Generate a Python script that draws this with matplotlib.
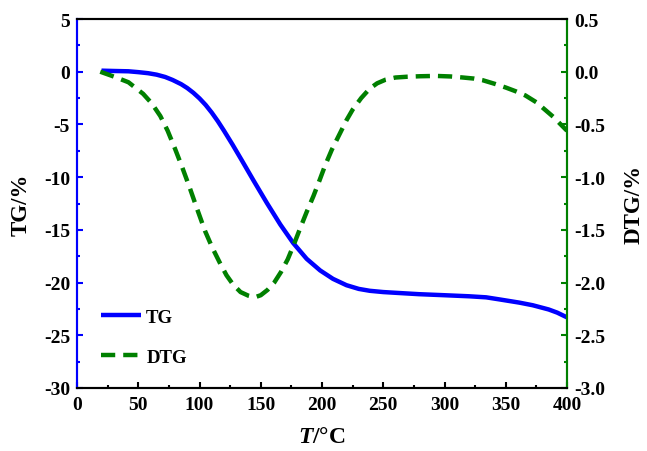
import matplotlib
matplotlib.use("Agg")
import matplotlib.pyplot as plt
from matplotlib.ticker import MultipleLocator, FormatStrFormatter

plt.rcParams['font.family'] = ['Liberation Serif', 'DejaVu Serif']
plt.rcParams['font.weight'] = 'bold'
plt.rcParams['axes.unicode_minus'] = False
plt.rcParams['mathtext.fontset'] = 'custom'
plt.rcParams['mathtext.it'] = 'Liberation Serif:bold:italic'
plt.rcParams['mathtext.rm'] = 'Liberation Serif:bold'

# TG data
T_tg = [20, 30, 42, 50, 58, 65, 72, 78, 85, 90, 95, 100, 105, 110, 115, 120, 127,
        134.5, 144, 155, 166, 176.5, 187.5, 198.5, 209, 220, 230, 239, 250, 260,
        279, 300, 320, 334, 345, 361, 372, 385, 392, 400]
TG = [0.1, 0.07, 0.04, -0.04, -0.14, -0.28, -0.5, -0.78, -1.18, -1.55, -2.0,
      -2.53, -3.15, -3.88, -4.7, -5.6, -6.92, -8.4, -10.3, -12.45, -14.5, -16.25,
      -17.75, -18.85, -19.65, -20.25, -20.6, -20.78, -20.9, -20.97, -21.1, -21.2,
      -21.3, -21.4, -21.6, -21.9, -22.15, -22.55, -22.85, -23.3]

# DTG data
T_dtg = [19, 31, 42, 54, 61, 68, 74, 80, 86, 92, 98, 104.5, 110.5, 116.5, 122,
         127.5, 133.5, 140, 145, 150, 155.5, 161, 166.5, 172, 177, 182, 187.5,
         193, 198, 202.5, 208, 214, 220, 225, 232, 239, 245, 252, 260, 269, 280,
         293, 305, 315, 324, 331, 341, 350, 358, 366, 375, 383, 389, 394, 400]
DTG = [0.0, -0.05, -0.10, -0.21, -0.30, -0.42, -0.56, -0.73, -0.91, -1.10, -1.30,
       -1.51, -1.67, -1.81, -1.93, -2.02, -2.09, -2.125, -2.14, -2.12, -2.07,
       -2.0, -1.9, -1.78, -1.64, -1.49, -1.33, -1.18, -1.03, -0.89, -0.74,
       -0.60, -0.46, -0.36, -0.25, -0.16, -0.11, -0.075, -0.055, -0.048, -0.043,
       -0.04, -0.045, -0.055, -0.065, -0.08, -0.115, -0.15, -0.185, -0.225,
       -0.29, -0.37, -0.43, -0.49, -0.56]

blue = '#0000ff'
green = '#008000'

fig = plt.figure(figsize=(6.47, 4.52), dpi=100)
ax = fig.add_axes([77/647, 63/452, 490/647, 369/452])
ax2 = ax.twinx()

l1, = ax.plot(T_tg, TG, color=blue, lw=3.2, solid_capstyle='butt',
              solid_joinstyle='round', label='TG')
l2, = ax2.plot(T_dtg, DTG, color=green, lw=3.2, linestyle=(0, (3.2, 1.8)),
               dash_joinstyle='round', label='DTG')

ax.set_xlim(0, 400)
ax.set_ylim(-30, 5)
ax2.set_ylim(-3, 0.5)

ax.xaxis.set_major_locator(MultipleLocator(50))
ax.xaxis.set_minor_locator(MultipleLocator(25))
ax.yaxis.set_major_locator(MultipleLocator(5))
ax.yaxis.set_minor_locator(MultipleLocator(2.5))
ax2.yaxis.set_major_locator(MultipleLocator(0.5))
ax2.yaxis.set_minor_locator(MultipleLocator(0.25))
ax2.yaxis.set_major_formatter(FormatStrFormatter('%.1f'))

for a in (ax, ax2):
    for s in a.spines.values():
        s.set_linewidth(1.5)
ax.spines['left'].set_color(blue)
ax2.spines['left'].set_color(blue)
ax.spines['right'].set_color(green)
ax2.spines['right'].set_color(green)
ax.spines['bottom'].set_color('black')
ax.spines['top'].set_color('black')

ax.tick_params(axis='x', which='major', direction='in', length=4, width=1.5,
               labelsize=14, pad=6, top=False)
ax.tick_params(axis='x', which='minor', direction='in', length=2.5, width=1.5, top=False)
ax.tick_params(axis='y', which='major', direction='in', length=4, width=1.5,
               color=blue, labelsize=14, pad=5)
ax.tick_params(axis='y', which='minor', direction='in', length=2.5, width=1.5, color=blue)
ax2.tick_params(axis='y', which='major', direction='in', length=4, width=1.5,
                color=green, labelsize=14, pad=5)
ax2.tick_params(axis='y', which='minor', direction='in', length=2.5, width=1.5, color=green)

for lab in ax.get_xticklabels() + ax.get_yticklabels() + ax2.get_yticklabels():
    lab.set_fontweight('bold')

ax.set_xlabel(r'$T$/°C', fontsize=17, fontweight='bold', labelpad=9)
ax.set_ylabel('TG/%', fontsize=16.5, fontweight='bold', labelpad=9)
ax2.set_ylabel('DTG/%', fontsize=16.5, fontweight='bold', labelpad=13)

leg = ax.legend(handles=[l1, l2], loc='lower left', bbox_to_anchor=(0.015, 0.015),
                frameon=False, fontsize=13.5, handlelength=2.1, labelspacing=1.2,
                handletextpad=0.3)
for t in leg.get_texts():
    t.set_fontweight('bold')

fig.savefig('out.png', dpi=100)
